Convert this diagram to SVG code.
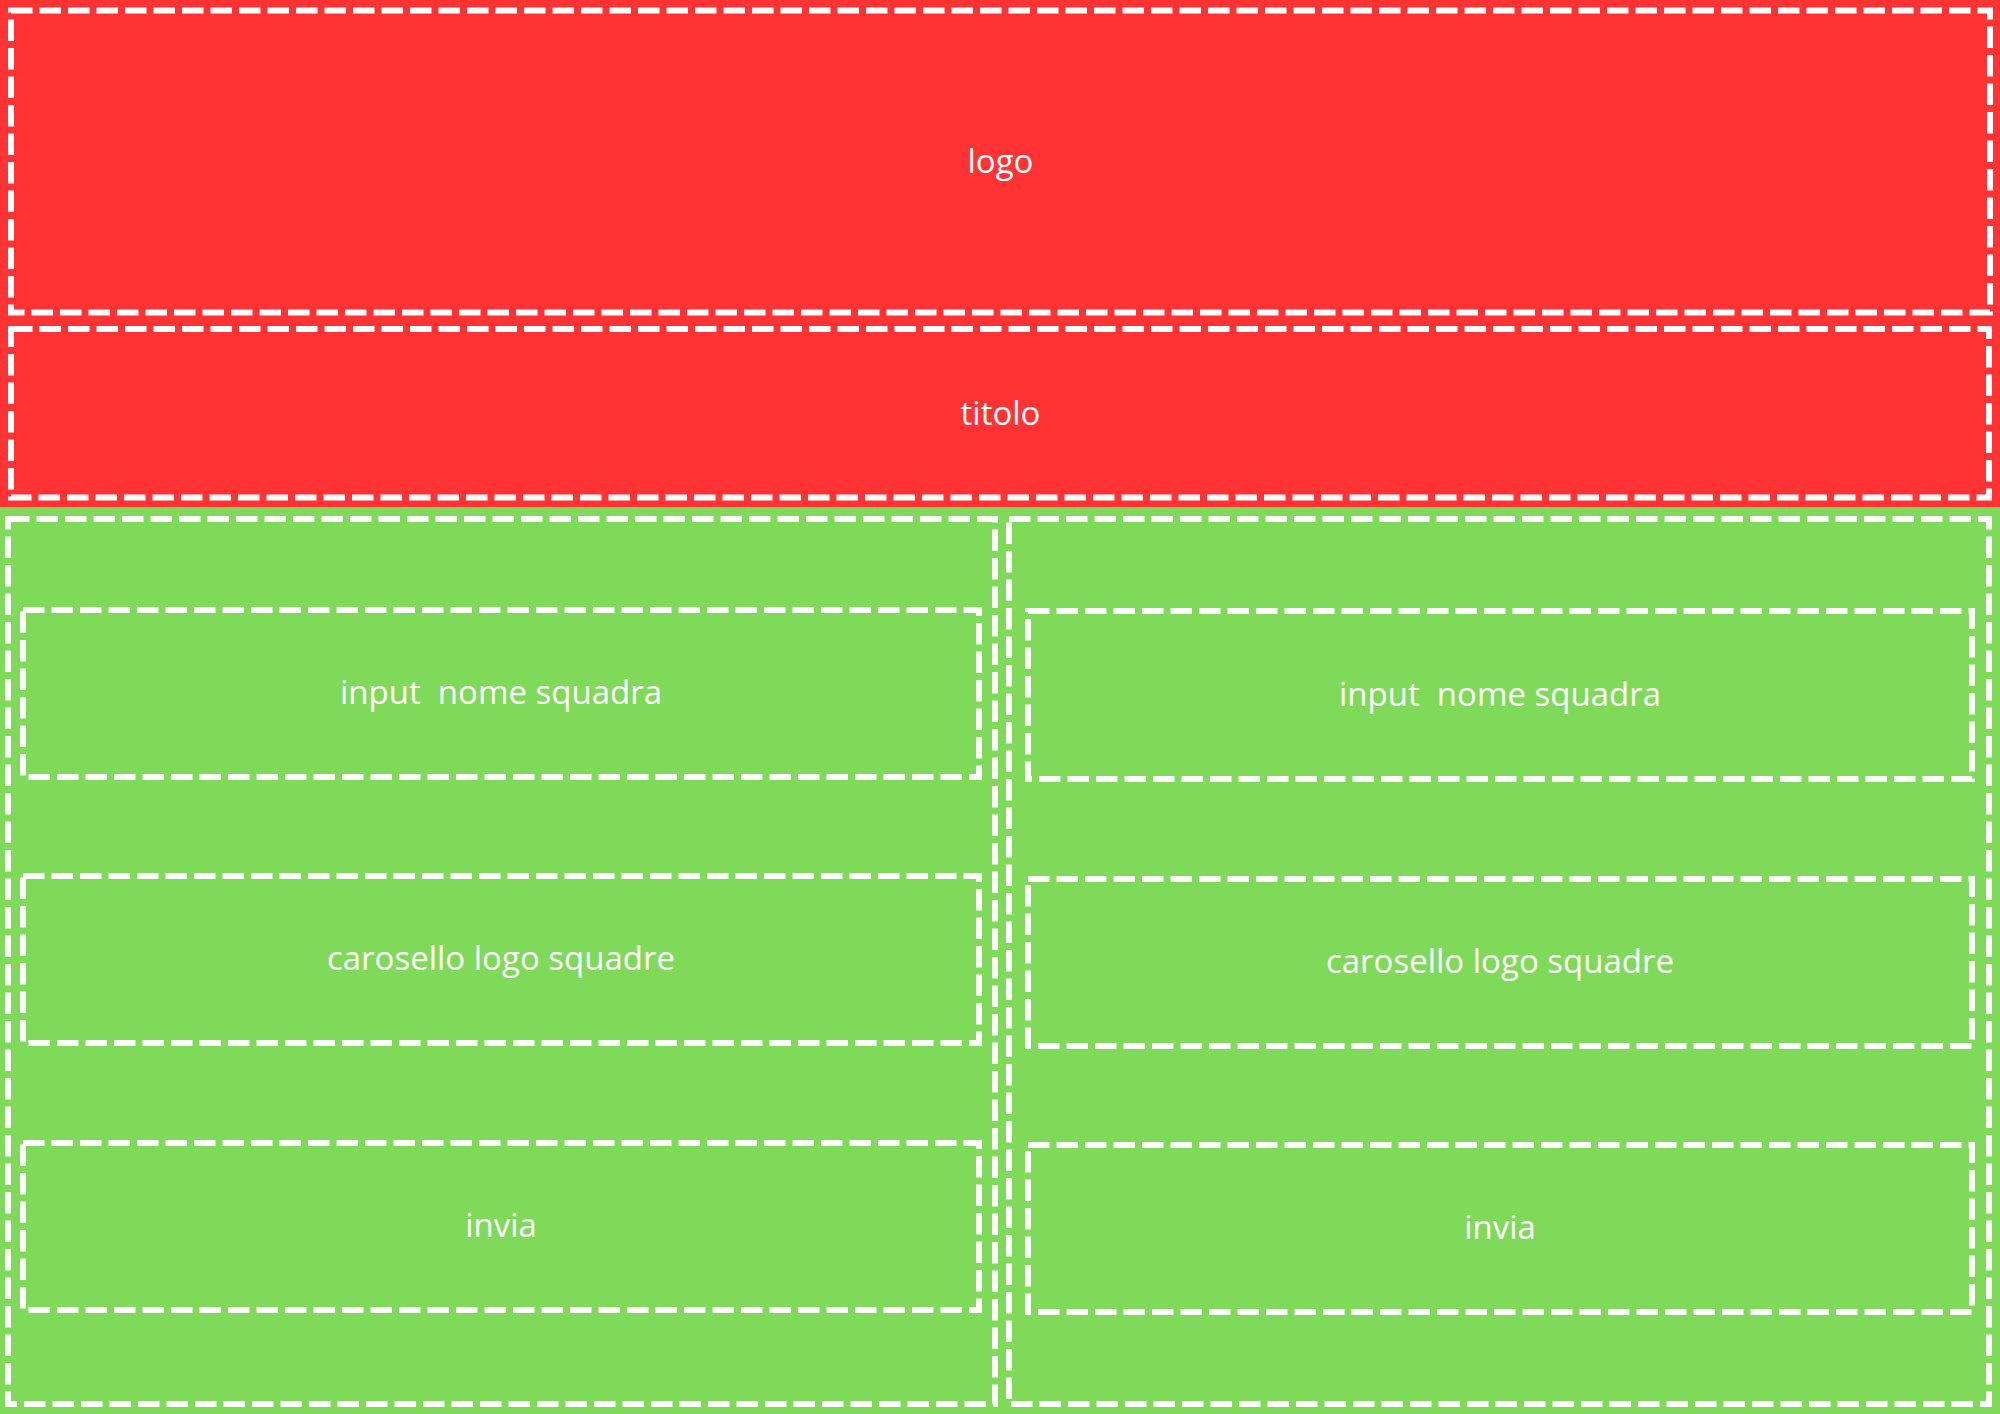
<svg xmlns="http://www.w3.org/2000/svg" width="2000" height="1414" viewBox="0 0 2000 1414">
<style>
.box{fill:none;stroke:#FFFFFF;stroke-width:6;stroke-dasharray:21.5 7}
.lbl{font-family:"Open Sans","Noto Sans","Liberation Sans",sans-serif;font-size:33px;fill:#FFFFFF;text-anchor:middle;white-space:pre}
</style>
<rect x="0" y="0" width="2000" height="507" fill="#FF3333"/>
<rect x="0" y="507" width="2000" height="907" fill="#7FDA5A"/>
<g id="logo">
<rect class="box" x="11" y="10.5" width="1979" height="302"/>
<text class="lbl" x="1000.5" y="172.5">logo</text>
</g>
<g id="titolo">
<rect class="box" x="11" y="329" width="1978" height="168.5"/>
<text class="lbl" x="1000.5" y="424.5">titolo</text>
</g>
<g id="colonna-sinistra">
<rect class="box" x="8" y="519" width="987" height="885"/>
</g>
<g id="colonna-destra">
<rect class="box" x="1009" y="519" width="980" height="885"/>
</g>
<g id="input-sx">
<rect class="box" x="23" y="610" width="956" height="167"/>
<text class="lbl" x="501" y="704" xml:space="preserve">input  nome squadra</text>
</g>
<g id="carosello-sx">
<rect class="box" x="23" y="876" width="956" height="167"/>
<text class="lbl" x="501" y="970">carosello logo squadre</text>
</g>
<g id="invia-sx">
<rect class="box" x="23" y="1143" width="956" height="167"/>
<text class="lbl" x="501" y="1237">invia</text>
</g>
<g id="input-dx">
<rect class="box" x="1028" y="611" width="944" height="168"/>
<text class="lbl" x="1500" y="705.5" xml:space="preserve">input  nome squadra</text>
</g>
<g id="carosello-dx">
<rect class="box" x="1028" y="879" width="944" height="167"/>
<text class="lbl" x="1500" y="973">carosello logo squadre</text>
</g>
<g id="invia-dx">
<rect class="box" x="1028" y="1145" width="944" height="167"/>
<text class="lbl" x="1500" y="1239">invia</text>
</g>
<g id="connectors"></g>
</svg>
